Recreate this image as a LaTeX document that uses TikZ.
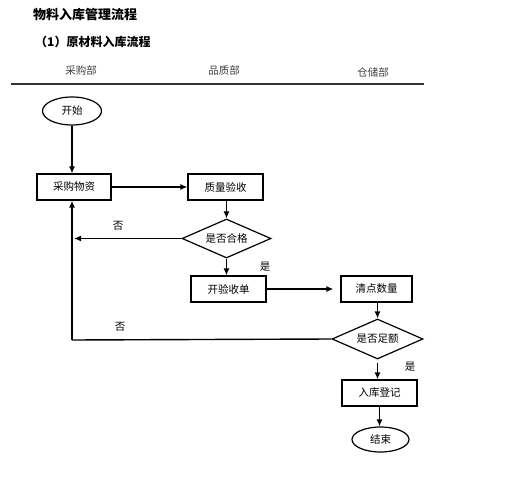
\documentclass[tikz,border=0pt]{standalone}
\usepackage{fontspec}
\setmainfont{Noto Sans CJK SC}
\usetikzlibrary{shapes.geometric,arrows.meta}
\tikzset{
  box/.style={draw, line width=1.2pt, rectangle, minimum width=75pt, minimum height=26pt, inner sep=0pt, font=\fontsize{10.5}{12}\selectfont},
  oval/.style={draw, line width=1.2pt, ellipse, inner sep=0pt, font=\fontsize{10.5}{12}\selectfont},
  dia/.style={draw, line width=1.2pt, diamond, shape aspect=2.3, inner sep=0pt, font=\fontsize{10.5}{12}\selectfont},
  arr/.style={line width=1.6pt, -{Latex[length=7pt,width=6pt]}},
  lab/.style={font=\fontsize{10.5}{12}\selectfont, inner sep=0pt},
}
\begin{document}
\begin{tikzpicture}[x=1pt,y=-1pt]
\useasboundingbox (0,0) rectangle (517,500);
% titles
\node[anchor=west, inner sep=0pt, font=\fontsize{13}{15}\selectfont\bfseries] (title) at (33,15) {物料入库管理流程};
\node[anchor=west, inner sep=0pt, font=\fontsize{12}{14}\selectfont\bfseries] (sub) at (35,42) {（1）原材料入库流程};
% lane headers
\node[lab, text=black!75] (h1) at (81,70) {采购部};
\node[lab, text=black!75] (h2) at (224,70) {品质部};
\node[lab, text=black!75] (h3) at (373,72) {仓储部};
\coordinate (l1) at (11,84);
\coordinate (l2) at (424,84);
\draw[line width=1.5pt, black!80] (l1) -- (l2);
% nodes
\node[oval, minimum width=59pt, minimum height=28pt] (start) at (72,111) {开始};
\node[box, minimum width=74pt] (buy) at (74,187) {采购物资};
\node[box] (qc) at (225.5,187) {质量验收};
\node[dia, minimum width=89pt, minimum height=39pt] (d1) at (226.5,238.5) {是否合格};
\node[box] (bill) at (228.5,289) {开验收单};
\node[box, minimum width=71pt] (count) at (376.5,289) {清点数量};
\node[dia, minimum width=91pt, minimum height=40pt] (d2) at (377.5,339) {是否足额};
\node[box] (reg) at (379.5,393) {入库登记};
\node[oval, minimum width=57pt, minimum height=25pt] (end) at (380.5,439.5) {结束};
% free ends
\coordinate (c1) at (72,238.5);
\coordinate (c2) at (72,340);
% connectors
\draw[arr] (start.south -| 72,0) -- (buy.north -| 72,0);
\draw[arr] (buy.east) -- (qc.west);
\draw[arr] (qc.south -| d1.north) -- (d1.north);
\draw[arr, shorten >=2pt] (d1.west) -- (c1);
\draw[arr] (d1.south) -- (d1.south |- bill.north);
\draw[arr, shorten >=7pt] (bill.east) -- (count.west);
\draw[arr] (count.south) -- (count.south -| d2.north) -- (d2.north);
\draw[line width=1.4pt] (d2.west) -- (c2);
\draw[arr] (c2) -- (buy.south -| c2);
\draw[arr, shorten <=3pt] (d2.south) -- (d2.south |- reg.north);
\draw[arr] (reg.south) -- (reg.south |- end.north);
% labels
\node[lab] (n1) at (118,226) {否};
\node[lab] (y1) at (265,267) {是};
\node[lab] (n2) at (120,327) {否};
\node[lab] (y2) at (410,367) {是};
\end{tikzpicture}
\end{document}
